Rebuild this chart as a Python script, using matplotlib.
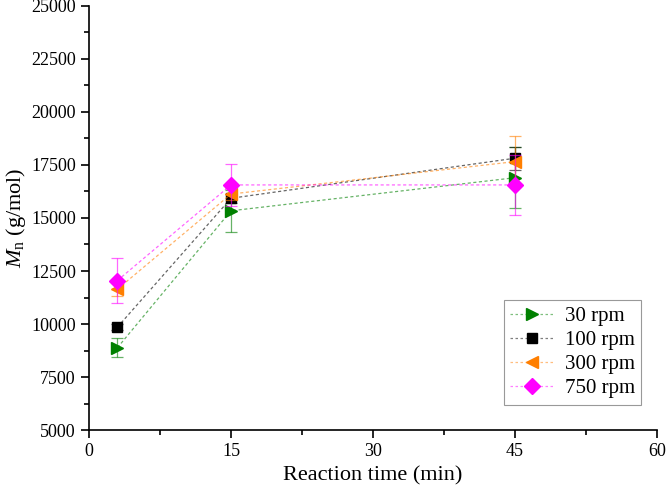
import matplotlib
matplotlib.use("Agg")
import matplotlib.pyplot as plt
from matplotlib.ticker import MultipleLocator
from matplotlib.lines import Line2D

plt.rcParams["font.family"] = "Liberation Serif"
plt.rcParams["mathtext.fontset"] = "custom"
plt.rcParams["mathtext.rm"] = "Liberation Serif"
plt.rcParams["mathtext.it"] = "Liberation Serif:italic"

# data
time_min = [3, 15, 45]
labels = ["30 rpm", "100 rpm", "300 rpm", "750 rpm"]
mn_30 = [8880, 15340, 16900]
mn_100 = [9850, 15930, 17820]
mn_300 = [11640, 16130, 17660]
mn_750 = [12050, 16560, 16560]
err_30 = [440, 1000, 1450]
err_100 = [150, 200, 550]
err_300 = [300, 300, 1200]
err_750 = [1050, 1000, 1400]

series = [mn_30, mn_100, mn_300, mn_750]
errors = [err_30, err_100, err_300, err_750]
colors = ["#008000", "#000000", "#ff7f00", "#ff00ff"]
markers = [">", "s", "<", "D"]
msizes = [9, 7, 9, 8]

fig = plt.figure(figsize=(6.66, 4.95), dpi=100)
ax = fig.add_axes([0.1336, 0.1313, 0.8529, 0.8566])

handles = []
for vals, err, c, m, ms in zip(series, errors, colors, markers, msizes):
    ax.errorbar(time_min, vals, yerr=err, fmt="none", ecolor=c, alpha=0.6,
                elinewidth=0.9, capsize=4, capthick=0.9)
    ax.plot(time_min, vals, color=c, linestyle=(0, (2.5, 2)), linewidth=0.9,
            alpha=0.6)
    ax.plot(time_min, vals, linestyle="none", marker=m, markersize=ms,
            color=c)
    ln = Line2D([], [], color=c, linestyle=(0, (2, 2)), linewidth=0.9, alpha=0.5)
    mk = Line2D([], [], color=c, linestyle="none", marker=m, markersize=ms)
    handles.append((ln, mk))

ax.set_xlim(0, 60)
ax.set_ylim(5000, 25000)
ax.xaxis.set_major_locator(MultipleLocator(15))
ax.xaxis.set_minor_locator(MultipleLocator(7.5))
ax.yaxis.set_major_locator(MultipleLocator(2500))
ax.yaxis.set_minor_locator(MultipleLocator(1250))
ax.tick_params(which="major", direction="out", length=6, width=1.2,
               labelsize=13)
ax.tick_params(which="minor", direction="out", length=3.5, width=1.2)
for s in ["top", "right"]:
    ax.spines[s].set_visible(False)
for s in ["left", "bottom"]:
    ax.spines[s].set_linewidth(1.2)

ax.set_xlabel("Reaction time (min)", fontsize=16)
ax.set_ylabel(r"$M_\mathrm{n}$ (g/mol)", fontsize=16, labelpad=2)

leg = ax.legend(handles, labels, loc="lower right",
                bbox_to_anchor=(0.99, 0.035), fontsize=15, frameon=True,
                fancybox=False, edgecolor="#808080", handlelength=2.1,
                labelspacing=0.22, borderpad=0.3, handletextpad=0.5)
leg.get_frame().set_linewidth(0.8)

fig.savefig("out.png", dpi=100)
